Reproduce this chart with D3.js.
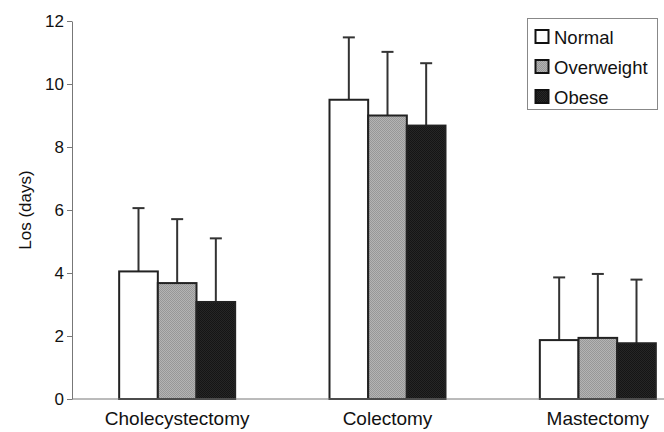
<!DOCTYPE html>
<html>
<head>
<meta charset="utf-8">
<script src="https://cdn.jsdelivr.net/npm/d3@7"></script>
<style>
  body { margin: 0; background: #fff; }
  svg { display: block; font-family: "Liberation Sans", Arial, sans-serif; }
</style>
</head>
<body>
<script>
const procedures = ["Cholecystectomy", "Colectomy", "Mastectomy"];
const groups = ["Normal", "Overweight", "Obese"];
// mean LOS (days) by group, one entry per procedure
const normalMean = [4.05, 9.5, 1.87];
const overweightMean = [3.68, 9.0, 1.94];
const obeseMean = [3.08, 8.68, 1.77];
// upper end of the error bars
const normalUpper = [6.06, 11.48, 3.86];
const overweightUpper = [5.71, 11.02, 3.97];
const obeseUpper = [5.1, 10.66, 3.79];
const yTicks = [0, 2, 4, 6, 8, 10, 12];

const width = 664, height = 432;
const margin = { left: 72, top: 21, bottom: 33 };

const rows = [];
procedures.forEach((p, i) => {
    rows.push({ proc: p, group: "Normal", mean: normalMean[i], upper: normalUpper[i] });
    rows.push({ proc: p, group: "Overweight", mean: overweightMean[i], upper: overweightUpper[i] });
    rows.push({ proc: p, group: "Obese", mean: obeseMean[i], upper: obeseUpper[i] });
});

const svg = d3.select("body").append("svg")
    .attr("width", width)
    .attr("height", height);

// dithered fills like the scanned original
const defs = svg.append("defs");
const dither = (id, a, b) => {
    const p = defs.append("pattern")
        .attr("id", id)
        .attr("width", 2).attr("height", 2)
        .attr("patternUnits", "userSpaceOnUse");
    p.append("rect").attr("width", 2).attr("height", 2).attr("fill", a);
    p.append("rect").attr("width", 1).attr("height", 1).attr("fill", b);
    p.append("rect").attr("x", 1).attr("y", 1).attr("width", 1).attr("height", 1).attr("fill", b);
};
dither("dOver", "#b4b4b4", "#979797");
dither("dObese", "#262626", "#151515");

const fill = d3.scaleOrdinal()
    .domain(groups)
    .range(["#ffffff", "url(#dOver)", "url(#dObese)"]);

const x = d3.scaleBand()
    .domain(procedures)
    .range([margin.left, 703]);
const xIn = d3.scaleBand()
    .domain(groups)
    .range([0, 116]);
const y = d3.scaleLinear()
    .domain([0, 12])
    .range([height - margin.bottom, margin.top]);

const barX = d => x(d.proc) + x.bandwidth() / 2 - 58 + xIn(d.group);

// error bars first so the bars cover their base
const err = svg.append("g")
    .attr("stroke", "#333")
    .attr("stroke-width", 2);
err.selectAll("line.v")
    .data(rows)
    .join("line")
        .attr("class", "v")
        .attr("x1", d => barX(d) + xIn.bandwidth() / 2)
        .attr("x2", d => barX(d) + xIn.bandwidth() / 2)
        .attr("y1", d => y(d.mean))
        .attr("y2", d => y(d.upper));
err.selectAll("line.cap")
    .data(rows)
    .join("line")
        .attr("class", "cap")
        .attr("x1", d => barX(d) + xIn.bandwidth() / 2 - 6)
        .attr("x2", d => barX(d) + xIn.bandwidth() / 2 + 6)
        .attr("y1", d => y(d.upper))
        .attr("y2", d => y(d.upper));

svg.append("g")
    .selectAll("rect")
    .data(rows)
    .join("rect")
        .attr("x", barX)
        .attr("y", d => y(d.mean))
        .attr("width", xIn.bandwidth())
        .attr("height", d => y(0) - y(d.mean))
        .attr("fill", d => fill(d.group))
        .attr("stroke", "#222")
        .attr("stroke-width", 2);

// y axis
svg.append("g")
    .attr("transform", `translate(${margin.left},0)`)
    .call(d3.axisLeft(y).tickValues(yTicks).tickSize(5).tickPadding(3).tickSizeOuter(0))
    .call(g => g.selectAll("path, line").attr("stroke", "#777"))
    .call(g => g.selectAll("text").attr("font-size", 17).attr("fill", "#111")
        .attr("font-family", "Liberation Sans, Arial, sans-serif"));

// x axis baseline, running off the right edge
svg.append("line")
    .attr("x1", margin.left).attr("x2", width)
    .attr("y1", y(0)).attr("y2", y(0))
    .attr("stroke", "#777");

svg.append("g")
    .selectAll("text")
    .data(procedures)
    .join("text")
        .attr("x", d => x(d) + x.bandwidth() / 2)
        .attr("y", 425)
        .attr("text-anchor", "middle")
        .attr("font-size", 19)
        .attr("fill", "#111")
        .text(d => d);

svg.append("text")
    .attr("transform", `translate(31,${(y(0) + y(12)) / 2}) rotate(-90)`)
    .attr("text-anchor", "middle")
    .attr("font-size", 17)
    .attr("fill", "#111")
    .text("Los (days)");

// legend
const legend = svg.append("g");
legend.append("rect")
    .attr("x", 527.5).attr("y", 18.5)
    .attr("width", 130).attr("height", 91)
    .attr("fill", "#fff")
    .attr("stroke", "#888");
const item = legend.selectAll("g")
    .data(groups)
    .join("g")
        .attr("transform", (d, i) => `translate(535,${30 + i * 30})`);
item.append("rect")
    .attr("x", 0.5).attr("y", 0)
    .attr("width", 13).attr("height", 13)
    .attr("fill", d => fill(d))
    .attr("stroke", "#111")
    .attr("stroke-width", 2);
item.append("text")
    .attr("x", 19)
    .attr("y", 14)
    .attr("font-size", 18.5)
    .attr("fill", "#111")
    .text(d => d);
</script>
</body>
</html>
